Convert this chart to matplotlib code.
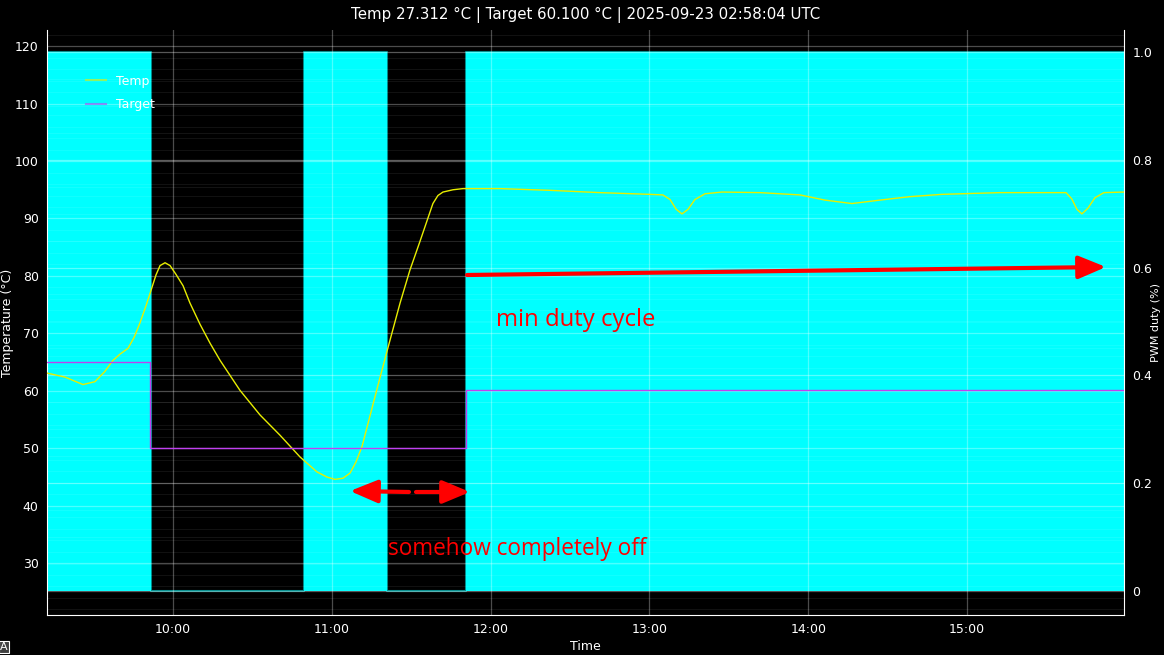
import matplotlib
matplotlib.use("Agg")
import matplotlib.pyplot as plt
import matplotlib.dates as mdates
from matplotlib.ticker import MultipleLocator, FuncFormatter
import pandas as pd

DAY = "2025-09-22 "

temp_times = ["09:12:24", "09:19:12", "09:26:00", "09:30:30", "09:34:18", "09:37:18", "09:40:00",
              "09:43:00", "09:45:18", "09:47:30", "09:49:48", "09:51:42", "09:53:36", "09:55:06",
              "09:57:00", "09:58:54", "10:01:06", "10:03:48", "10:06:24", "10:10:12", "10:14:00",
              "10:17:48", "10:25:18", "10:32:54", "10:40:24", "10:48:00", "10:54:24", "10:58:12",
              "11:01:12", "11:04:12", "11:06:54", "11:09:06", "11:11:24", "11:14:24", "11:18:12",
              "11:20:48", "11:25:48", "11:29:30", "11:33:18", "11:38:12", "11:40:06", "11:42:00",
              "11:45:48", "11:49:36", "12:03:30", "12:22:24", "12:41:18", "13:00:12", "13:05:06",
              "13:07:48", "13:10:06", "13:12:18", "13:14:36", "13:17:12", "13:21:00", "13:27:24",
              "13:41:48", "13:56:54", "14:06:18", "14:16:30", "14:27:06", "14:38:24", "14:50:30",
              "15:12:24", "15:37:24", "15:39:36", "15:41:30", "15:43:24", "15:45:42", "15:48:18",
              "15:51:42", "15:59:18"]
temp_values = [63.1, 62.4, 61.1, 61.6, 63.4, 65.3, 66.4,
               67.4, 69.3, 71.8, 74.8, 77.5, 80.2, 81.8,
               82.3, 81.8, 80.3, 78.3, 75.3, 71.6, 68.3,
               65.3, 60.1, 55.8, 52.3, 48.5, 45.9, 45.0,
               44.6, 44.8, 45.7, 47.6, 50.3, 55.6, 62.3,
               66.8, 75.3, 81.0, 86.0, 92.6, 94.0, 94.6,
               95.0, 95.2, 95.2, 94.9, 94.5, 94.2, 94.1,
               93.3, 91.6, 90.8, 91.6, 93.3, 94.3, 94.6,
               94.5, 94.1, 93.2, 92.6, 93.2, 93.8, 94.2,
               94.5, 94.5, 93.4, 91.6, 90.8, 91.8, 93.6,
               94.5, 94.6]

target_times = ["09:12:24", "09:51:20", "11:50:40", "15:59:18"]
target_values = [65.0, 50.0, 60.1, 60.1]

pwm_times = ["09:12:24", "09:51:40", "10:49:30", "11:20:50", "11:50:40", "15:59:18"]
pwm_values = [1, 0, 1, 0, 1, 1]

temp_ticks = [30, 40, 50, 60, 70, 80, 90, 100, 110, 120]
pwm_ticks = [0, 0.2, 0.4, 0.6, 0.8, 1.0]

title_text = "Temp 27.312 °C | Target 60.100 °C | 2025-09-23 02:58:04 UTC"


def to_dt(ts):
    return pd.to_datetime([DAY + t for t in ts])


t_temp = to_dt(temp_times)
t_target = to_dt(target_times)
t_pwm = to_dt(pwm_times)

W, H = 1164, 655
AX_L, AX_R, AX_T, AX_B = 47, 1124, 30, 615
fig = plt.figure(figsize=(W / 100, H / 100), dpi=100)
fig.patch.set_facecolor("black")

ax = fig.add_axes([AX_L / W, 1 - AX_B / H, (AX_R - AX_L) / W, (AX_B - AX_T) / H])
ax2 = ax.twinx()
ax.set_zorder(ax2.get_zorder() + 1)
ax.patch.set_visible(False)
ax2.patch.set_facecolor("#080808")

# PWM fill (right axis)
ax2.fill_between(t_pwm, 0, pwm_values, step="post", color="#00ffff", lw=0, zorder=1)
ax2.step(t_pwm, pwm_values, where="post", color="#00ffff", alpha=0.55, lw=1.5, zorder=1.2)
ax2.set_ylim(-0.045, 1.041)
ax2.set_yticks(pwm_ticks)
ax2.yaxis.set_major_formatter(FuncFormatter(lambda v, p: "0" if abs(v) < 1e-9 else f"{v:.1f}"))
ax2.yaxis.set_minor_locator(MultipleLocator(0.05))
ax2.grid(True, which="major", axis="y", color="white", alpha=0.35, lw=0.9)
ax2.grid(True, which="minor", axis="y", color="white", alpha=0.08, lw=0.8)
ax2.set_ylabel("PWM duty (%)", color="white", fontsize=8)
ax2.yaxis.set_label_coords((1156 - AX_L) / (AX_R - AX_L), 0.5)
ax2.yaxis.label.set_va("center")

# Temperature lines (left axis)
ax.plot(t_temp, temp_values, color="#e8ee00", lw=1.0, label="Temp", zorder=3)
ax.step(t_target, target_values, where="post", color="#c040f0", lw=1.0, label="Target", zorder=3)
ax.set_ylim(21.0, 122.8)
ax.set_yticks(temp_ticks)
ax.yaxis.set_minor_locator(MultipleLocator(2))
ax.set_xlim(t_temp[0], t_temp[-1])
ax.xaxis.set_major_locator(mdates.HourLocator())
ax.xaxis.set_major_formatter(mdates.DateFormatter("%H:%M"))
ax.grid(True, which="major", color="white", alpha=0.3, lw=0.9)
ax.grid(True, which="minor", axis="y", color="white", alpha=0.07, lw=0.8)

for a in (ax, ax2):
    a.tick_params(axis="both", which="both", length=0, colors="white", labelsize=9, pad=6)
    for s in a.spines.values():
        s.set_visible(False)
ax.spines["left"].set_visible(True)
ax.spines["left"].set_color("white")
ax.spines["bottom"].set_visible(True)
ax.spines["bottom"].set_color("white")
ax2.spines["right"].set_visible(True)
ax2.spines["right"].set_color("white")

ax.set_xlabel("Time", color="white", fontsize=9)
ax.xaxis.set_label_coords(0.5, -(647 - AX_B) / (AX_B - AX_T))
ax.xaxis.label.set_va("center")
ax.set_ylabel("Temperature (°C)", color="white", fontsize=9)
ax.yaxis.set_label_coords(-(AX_L - 7) / (AX_R - AX_L), 0.5)
ax.yaxis.label.set_va("center")
ax.set_title(title_text, color="white", fontsize=10.8, pad=8)

leg = ax.legend(loc="upper left", bbox_to_anchor=(0.026, 0.943), frameon=False,
                fontsize=9, labelcolor="white", handlelength=1.6, handletextpad=0.8,
                labelspacing=0.85)
for h in leg.get_lines():
    h.set_alpha(0.6)
    h.set_linewidth(1.5)

# Annotations
def arrow(x0, y0, x1, y1):
    fig.add_artist(matplotlib.patches.FancyArrowPatch(
        (x0, H - y0), (x1, H - y1), transform=None,
        arrowstyle="-|>,head_length=1.2,head_width=0.5", mutation_scale=14,
        color="red", lw=3.0, shrinkA=0, shrinkB=0, zorder=10))

arrow(467, 275, 1106, 267)
arrow(409, 492, 350, 491)
arrow(416, 492, 470, 492)

fig.text(496 / W, 1 - 320 / H, "min duty cycle", color="red", fontsize=17.2,
         family="Open Sans", va="center", ha="left")
fig.text(388 / W, 1 - 549 / H, "somehow completely off", color="red", fontsize=16.3,
         family="Open Sans", va="center", ha="left")

fig.text(4 / W, 1 - 647 / H, "A", color="white", fontsize=8, va="center", ha="center",
         bbox=dict(boxstyle="square,pad=0.1", fc="#404040", ec="white", lw=0.8))

fig.savefig("out.png", dpi=100, facecolor="black")
